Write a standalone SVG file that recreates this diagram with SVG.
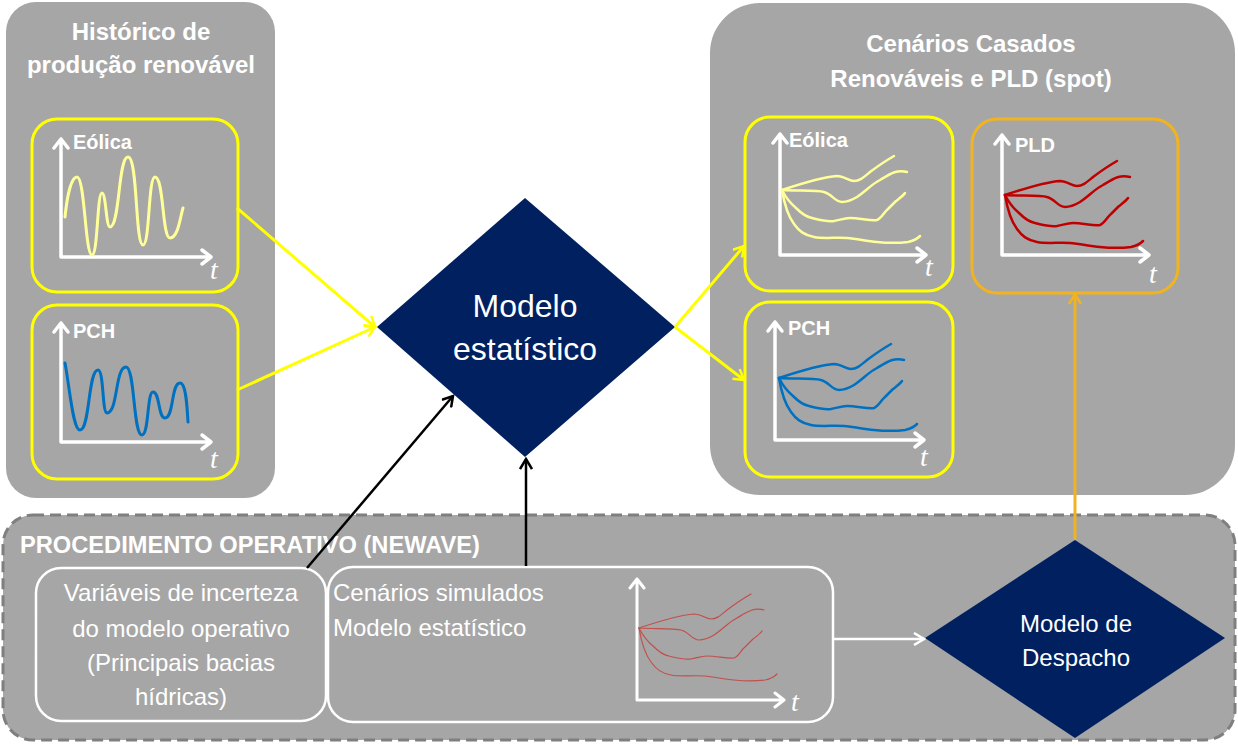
<svg xmlns="http://www.w3.org/2000/svg" xmlns:xlink="http://www.w3.org/1999/xlink" width="1238" height="746" viewBox="0 0 1238 746">
<style>
.panel{fill:#a6a6a6}
.ybox{fill:none;stroke:#ffff00;stroke-width:3}
.obox{fill:none;stroke:#f2b320;stroke-width:3}
.wbox{fill:none;stroke:#ffffff;stroke-width:2.5}
.axis{fill:none;stroke:#ffffff;stroke-width:3.5;stroke-linecap:round;stroke-linejoin:round}
.axis-s{fill:none;stroke:#ffffff;stroke-width:3;stroke-linecap:round;stroke-linejoin:round}
.title{font-family:'Liberation Sans',Arial,sans-serif;font-weight:bold;font-size:24px;fill:#ffffff;text-anchor:middle}
.lbl{font-family:'Liberation Sans',Arial,sans-serif;font-weight:bold;font-size:20px;fill:#ffffff}
.tt{font-family:'Liberation Serif','Times New Roman',serif;font-style:italic;font-size:28px;fill:#ffffff}
.dtext{font-family:'Liberation Sans',Arial,sans-serif;font-size:32px;fill:#ffffff;text-anchor:middle}
.btext{font-family:'Liberation Sans',Arial,sans-serif;font-size:24px;fill:#ffffff}
.diamond{fill:#002060}
.fan{fill:none;stroke-linecap:round;stroke-linejoin:round}
.conn{fill:none}
</style>
<defs>
<g id="fan">
<path d="M0,0 C15,-5 40,-13 55,-14 C62,-14 67,-9 72,-9 C78,-9 82,-13 88,-18 C96,-24 105,-30 112,-34"/>
<path d="M0,0 C15,1 35,0 42,2 C50,4 53,12 60,12 C66,12 70,10 75,7 C85,0 90,-6 98,-10 C108,-16 115,-21 125,-18"/>
<path d="M0,0 C4,8 8,13 14,18 C20,24 24,27 30,28 C38,30 45,32 52,31 C58,30 62,28 68,28 C78,28 88,31 95,30 C100,28 102,22 106,19 C110,15 112,13 114,11 C118,8 121,6 123,3"/>
<path d="M0,0 C2,12 6,26 12,34 C17,41 22,45 32,47 C42,49 55,47 65,48 C76,49 84,51 95,52 C105,53 118,53 126,52 C131,51 135,49 138,46"/>
</g>
<marker id="ay" viewBox="0 0 14 14" refX="12" refY="7" markerWidth="14" markerHeight="14" markerUnits="userSpaceOnUse" orient="auto"><path d="M2,1 L12,7 L2,13" fill="none" stroke="#ffff00" stroke-width="2.5"/></marker>
<marker id="ak" viewBox="0 0 14 14" refX="12" refY="7" markerWidth="14" markerHeight="14" markerUnits="userSpaceOnUse" orient="auto"><path d="M2,1 L12,7 L2,13" fill="none" stroke="#000000" stroke-width="2.5"/></marker>
<marker id="aw" viewBox="0 0 14 14" refX="12" refY="7" markerWidth="14" markerHeight="14" markerUnits="userSpaceOnUse" orient="auto"><path d="M2,1 L12,7 L2,13" fill="none" stroke="#ffffff" stroke-width="2.5"/></marker>
<marker id="ao" viewBox="0 0 14 14" refX="12" refY="7" markerWidth="14" markerHeight="14" markerUnits="userSpaceOnUse" orient="auto"><path d="M2,1 L12,7 L2,13" fill="none" stroke="#f2b320" stroke-width="2.5"/></marker>
</defs>

<rect width="1238" height="746" fill="#ffffff"/>

<g id="historico">
<rect class="panel" x="6" y="2" width="269" height="496" rx="30"/>
<text class="title" x="141" y="40">Histórico de</text>
<text class="title" x="141" y="73">produção renovável</text>
</g>

<g id="hist-eolica">
<rect class="ybox" x="32" y="119" width="206" height="173" rx="25"/>
<path class="axis" d="M61,257 L61,139 M54,148 L61,139 L68,148 M61,257 L211,257 M202,250 L211,257 L202,264"/>
<text class="lbl" x="73" y="149">Eólica</text>
<text class="tt" x="210" y="279">t</text>
<path fill="none" stroke="#ffff99" stroke-width="3" stroke-linecap="round" d="M65,217 C67,197 71,177 77,177 C85,177 85,255 92,255 C98,255 97,193 102,193 C106,193 106,227 110,227 C120,227 118,157 128,157 C138,157 135,245 143,245 C150,245 148,177 155,177 C164,177 162,238 170,238 C178,238 180,218 183,208"/>
</g>

<g id="hist-pch">
<rect class="ybox" x="32" y="305" width="206" height="174" rx="25"/>
<path class="axis" d="M61,442 L61,323 M54,332 L61,323 L68,332 M61,442 L211,442 M202,435 L211,442 L202,449"/>
<text class="lbl" x="73" y="338">PCH</text>
<text class="tt" x="210" y="468">t</text>
<path fill="none" stroke="#0070c0" stroke-width="3" stroke-linecap="round" d="M65,363 C70,390 73,430 80,430 C90,430 88,370 98,370 C104,370 102,413 107,413 C118,413 115,367 126,367 C135,367 133,435 142,435 C149,435 147,392 153,392 C160,392 158,418 165,418 C174,418 171,383 180,383 C186,383 187,405 188,422"/>
</g>

<g id="cenarios">
<rect class="panel" x="710" y="3" width="525" height="492" rx="50"/>
<text class="title" x="971" y="52">Cenários Casados</text>
<text class="title" x="971" y="87">Renováveis e PLD (spot)</text>
</g>

<g id="cen-eolica">
<rect class="ybox" x="745" y="117" width="208" height="174" rx="25"/>
<path class="axis" d="M780,255 L780,134 M773,143 L780,134 L787,143 M780,255 L926,255 M917,248 L926,255 L917,262"/>
<text class="lbl" x="789" y="147">Eólica</text>
<text class="tt" x="925" y="276">t</text>
<use xlink:href="#fan" href="#fan" class="fan" stroke="#ffff99" stroke-width="2.5" transform="translate(782,190)"/>
</g>

<g id="cen-pch">
<rect class="ybox" x="745" y="302" width="208" height="175" rx="25"/>
<path class="axis" d="M775,440 L775,322 M768,331 L775,322 L782,331 M775,440 L924,440 M915,433 L924,440 L915,447"/>
<text class="lbl" x="788" y="335">PCH</text>
<text class="tt" x="920" y="466">t</text>
<use xlink:href="#fan" href="#fan" class="fan" stroke="#0070c0" stroke-width="2.5" transform="translate(779,378)"/>
</g>

<g id="cen-pld">
<rect class="obox" x="972" y="119" width="206" height="174" rx="25"/>
<path class="axis" d="M1002,255 L1002,135 M995,144 L1002,135 L1009,144 M1002,255 L1149,255 M1140,248 L1149,255 L1140,262"/>
<text class="lbl" x="1015" y="152">PLD</text>
<text class="tt" x="1149" y="283">t</text>
<use xlink:href="#fan" href="#fan" class="fan" stroke="#c00000" stroke-width="2.5" transform="translate(1005,195)"/>
</g>

<g id="modelo-estatistico">
<polygon class="diamond" points="525,198 675,327 525,457 377,327"/>
<text class="dtext" x="525" y="317">Modelo</text>
<text class="dtext" x="525" y="360">estatístico</text>
</g>

<g id="procedimento">
<rect class="panel" x="3" y="515" width="1232" height="225" rx="30" stroke="#7f7f7f" stroke-width="3" stroke-dasharray="11 6"/>
<text x="20" y="553" font-family="'Liberation Sans',Arial,sans-serif" font-weight="bold" font-size="23" fill="#ffffff" textLength="460" lengthAdjust="spacingAndGlyphs">PROCEDIMENTO OPERATIVO (NEWAVE)</text>
</g>

<g id="variaveis">
<rect class="wbox" x="36" y="568" width="290" height="153" rx="25"/>
<text class="btext" x="181" y="601" text-anchor="middle">Variáveis de incerteza</text>
<text class="btext" x="181" y="637" text-anchor="middle">do modelo operativo</text>
<text class="btext" x="181" y="671" text-anchor="middle">(Principais bacias</text>
<text class="btext" x="181" y="705" text-anchor="middle">hídricas)</text>
</g>

<g id="cenarios-simulados">
<rect class="wbox" x="328" y="567" width="505" height="155" rx="25"/>
<text class="btext" x="333" y="601">Cenários simulados</text>
<text class="btext" x="333" y="636">Modelo estatístico</text>
<path class="axis-s" d="M637,700 L637,579 M630,588 L637,579 L644,588 M637,700 L784,700 M775,693 L784,700 L775,707"/>
<text class="tt" x="791" y="711">t</text>
<use xlink:href="#fan" href="#fan" class="fan" stroke="#c0504d" stroke-width="1.2" transform="translate(639,628)"/>
</g>

<g id="modelo-despacho">
<polygon class="diamond" points="1075,540 1225,638 1075,738 925,638"/>
<text class="btext" x="1076" y="632" text-anchor="middle">Modelo de</text>
<text class="btext" x="1076" y="666" text-anchor="middle">Despacho</text>
</g>

<g id="connectors">
<line class="conn" x1="237" y1="208" x2="375" y2="327" stroke="#ffff00" stroke-width="3" marker-end="url(#ay)"/>
<line class="conn" x1="237" y1="390" x2="375" y2="327" stroke="#ffff00" stroke-width="3" marker-end="url(#ay)"/>
<line class="conn" x1="675" y1="327" x2="744" y2="246" stroke="#ffff00" stroke-width="3" marker-end="url(#ay)"/>
<line class="conn" x1="675" y1="327" x2="744" y2="380" stroke="#ffff00" stroke-width="3" marker-end="url(#ay)"/>
<line class="conn" x1="307" y1="568" x2="453" y2="396" stroke="#000000" stroke-width="2.5" marker-end="url(#ak)"/>
<line class="conn" x1="526" y1="566" x2="526" y2="459" stroke="#000000" stroke-width="2.5" marker-end="url(#ak)"/>
<line class="conn" x1="833" y1="639" x2="924" y2="639" stroke="#ffffff" stroke-width="2.5" marker-end="url(#aw)"/>
<line class="conn" x1="1075" y1="540" x2="1075" y2="294" stroke="#f2b320" stroke-width="3" marker-end="url(#ao)"/>
</g>
</svg>
